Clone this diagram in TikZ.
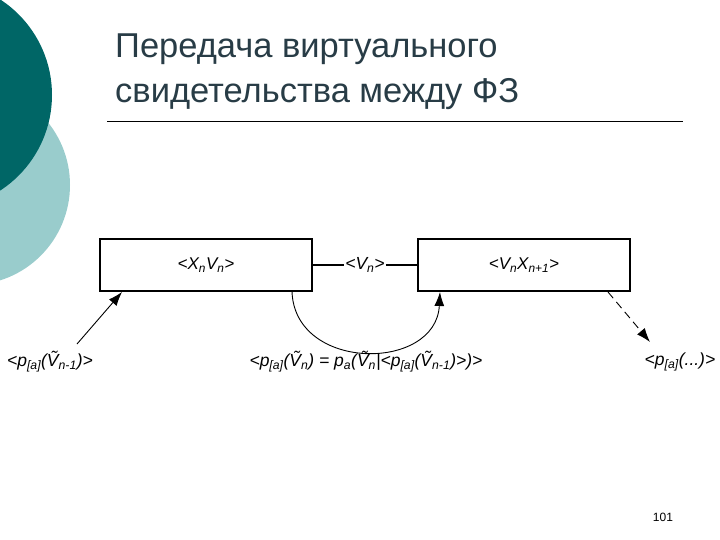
\documentclass[tikz,border=0pt]{standalone}
\usepackage{fontspec}
\setmainfont{Liberation Sans}
\usetikzlibrary{arrows.meta}
\definecolor{darkteal}{RGB}{0,102,102}
\definecolor{lightteal}{RGB}{153,204,204}
\definecolor{titlegray}{RGB}{40,60,70}
\begin{document}
\begin{tikzpicture}[x=1pt,y=-1pt,
  box/.style={draw,line width=1.2pt,minimum width=212pt,minimum height=52pt,inner sep=0pt,font=\fontsize{17}{19}\selectfont\itshape},
  lbl/.style={font=\fontsize{17.5}{19}\selectfont\itshape,inner sep=1pt},
  arr/.style={-{Latex[length=14pt,width=10pt]},line width=0.9pt}]
\useasboundingbox (0,0) rectangle (720,540);
\fill[lightteal] (-30,185) circle (100);
\fill[darkteal] (-62,95) circle (114);
\node[anchor=base west,text=titlegray,font=\fontsize{34.5}{38}\selectfont,inner sep=0pt] (t1) at (115,58) {Передача виртуального};
\node[anchor=base west,text=titlegray,font=\fontsize{34.5}{38}\selectfont,inner sep=0pt] (t2) at (115,103) {свидетельства между ФЗ};
\coordinate (l1) at (107,121); \coordinate (l2) at (683,121);
\draw[line width=0.6pt] (l1) -- (l2);
\node[box] (b1) at (206,265) {<X\textsubscript{n}V\textsubscript{n}>};
\node[box] (b2) at (524,265) {<V\textsubscript{n}X\textsubscript{n+1}>};
\node[lbl,fill=white] (vn) at (365,265) {<V\textsubscript{n}>};
\draw[line width=1.2pt] (b1.east) -- (vn.west);
\draw[line width=1.2pt] (vn.east) -- (b2.west);
\node[lbl] (p1) at (50,362) {<p\textsubscript{[a]}(\~V\textsubscript{n-1})>};
\node[lbl] (p2) at (366,362) {<p\textsubscript{[a]}(\~V\textsubscript{n}) = p\textsubscript{a}(\~V\textsubscript{n}|<p\textsubscript{[a]}(\~V\textsubscript{n-1})>)>};
\node[lbl] (p3) at (680,362) {<p\textsubscript{[a]}(...)>};
\coordinate (a1s) at (77,344); \coordinate (a1e) at (122,292);
\draw[arr] (a1s) -- (a1e);
\coordinate (c1) at (292,291); \coordinate (c2) at (440,292);
\draw[arr] (c1) .. controls (294,372) and (436,372) .. (c2);
\coordinate (d1) at (608,292); \coordinate (d2) at (650,342);
\draw[arr,dashed,dash pattern=on 8pt off 5pt] (d1) -- (d2);
\node[font=\fontsize{12}{14}\selectfont] (pg) at (663,517) {101};
\end{tikzpicture}
\end{document}
